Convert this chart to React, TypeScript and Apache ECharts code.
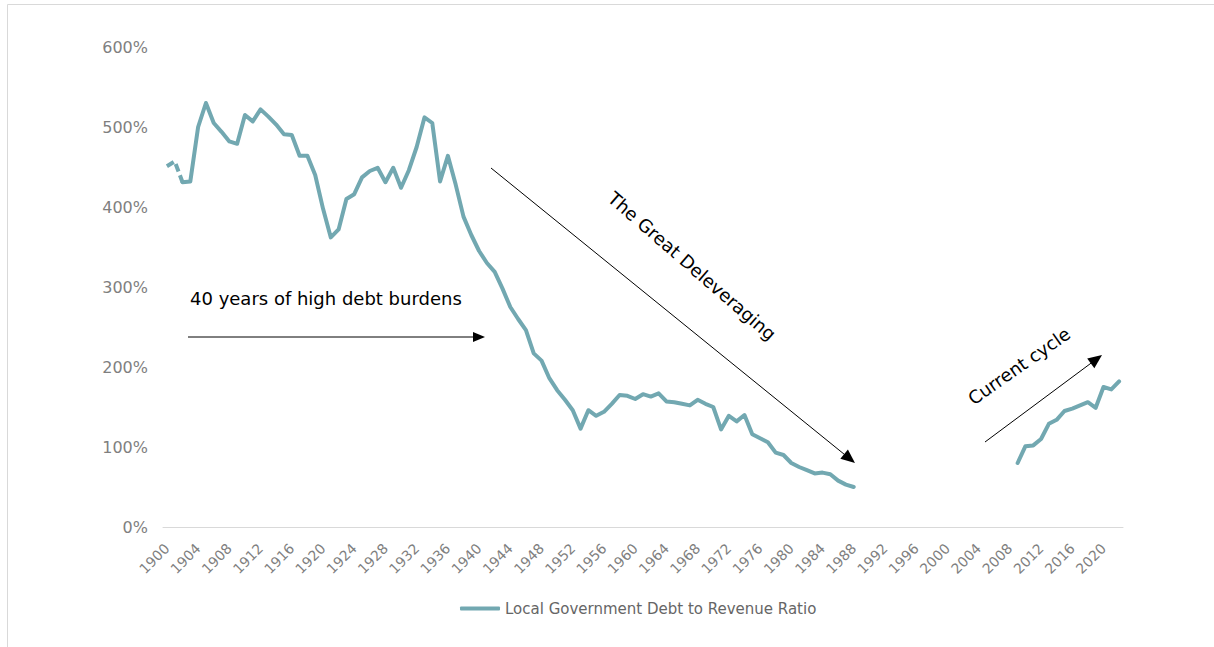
import React, { useEffect, useRef } from "react";
import * as echarts from "echarts";

// ---- Data ----
const years: string[] = Array.from({ length: 123 }, (_, i) => String(1900 + i));

// Local Government Debt to Revenue Ratio (%), 1900–2022 (null = no data)
const ratio: (number | null)[] = [
  451, 457, 431, 432, 500, 530, 505, 494, 482, 479, // 1900-1909
  515, 507, 522, 513, 503, 491, 490, 464, 464, 440, // 1910-1919
  398, 362, 372, 410, 416, 437, 445, 449, 431, 449, // 1920-1929
  424, 446, 475, 512, 505, 432, 464, 428, 388, 365, // 1930-1939
  345, 330, 319, 298, 275, 260, 246, 217, 208, 186, // 1940-1949
  171, 159, 146, 123, 146, 139, 144, 154, 165, 164, // 1950-1959
  160, 166, 163, 167, 157, 156, 154, 152, 159, 154, // 1960-1969
  150, 122, 139, 132, 140, 116, 111, 106, 93, 90,   // 1970-1979
  80, 75, 71, 67, 68, 66, 58, 53, 50, null,         // 1980-1989
  null, null, null, null, null, null, null, null, null, null, // 1990-1999
  null, null, null, null, null, null, null, null, null, 80,   // 2000-2009
  101, 102, 110, 129, 134, 145, 148, 152, 156, 149, // 2010-2019
  175, 172, 182,                                     // 2020-2022
];

// early, estimated years drawn dashed (through this year)
const dashedThrough = "1902";

const yTicks = { min: 0, max: 600, interval: 100 };

const seriesName = "Local Government Debt to Revenue Ratio";
const annotations = {
  high: "40 years of high debt burdens",
  delever: "The Great Deleveraging",
  current: "Current cycle",
};

const LINE_COLOR = "#72a8b1";
const LABEL_COLOR = "#7f7f7f";
const FONT = "'DejaVu Sans', Verdana, sans-serif";

function arrow(x1: number, y1: number, x2: number, y2: number, len = 12, half = 5) {
  const dx = x2 - x1;
  const dy = y2 - y1;
  const d = Math.sqrt(dx * dx + dy * dy);
  const ux = dx / d;
  const uy = dy / d;
  const bx = x2 - ux * len;
  const by = y2 - uy * len;
  const px = -uy;
  const py = ux;
  return [
    {
      type: "line",
      silent: true,
      shape: { x1, y1, x2: bx + ux * 2, y2: by + uy * 2 },
      style: { stroke: "#000", lineWidth: 1 },
    },
    {
      type: "polygon",
      silent: true,
      shape: {
        points: [
          [x2, y2],
          [bx + px * half, by + py * half],
          [bx - px * half, by - py * half],
        ],
      },
      style: { fill: "#000" },
    },
  ];
}

export default function App() {
  const ref = useRef<HTMLDivElement>(null);

  useEffect(() => {
    if (!ref.current) return;
    const chart = echarts.init(ref.current, null, { renderer: "svg" });
    const cut = years.indexOf(dashedThrough);
    const solid = ratio.map((v, i) => (i < cut ? null : v));
    const dashed = ratio.map((v, i) => (i > cut ? null : v));

    chart.setOption({
      animation: false,
      backgroundColor: "#ffffff",
      textStyle: { fontFamily: FONT },
      grid: { left: 163, right: 91, top: 47, bottom: 120, containLabel: false },
      legend: {
        data: [seriesName],
        left: 455,
        top: 596,
        itemWidth: 40,
        itemHeight: 4,
        itemGap: 10,
        icon: "roundRect",
        textStyle: { color: "#666666", fontSize: 15, fontFamily: FONT },
      },
      xAxis: {
        type: "category",
        data: years,
        boundaryGap: true,
        axisLine: { lineStyle: { color: "#d9d9d9", width: 1 } },
        axisTick: { show: false },
        axisLabel: {
          interval: 3,
          rotate: 45,
          margin: 19,
          color: LABEL_COLOR,
          fontSize: 14,
          fontFamily: FONT,
        },
        splitLine: { show: false },
      },
      yAxis: {
        type: "value",
        min: yTicks.min,
        max: yTicks.max,
        interval: yTicks.interval,
        axisLine: { show: false },
        axisTick: { show: false },
        splitLine: { show: false },
        axisLabel: {
          formatter: "{value}%",
          color: LABEL_COLOR,
          fontSize: 16,
          margin: 15,
          fontFamily: FONT,
        },
      },
      series: [
        {
          name: seriesName,
          type: "line",
          data: solid,
          showSymbol: false,
          symbol: "none",
          connectNulls: false,
          lineStyle: { color: LINE_COLOR, width: 4, cap: "round", join: "round" },
          itemStyle: { color: LINE_COLOR },
        },
        {
          name: "estimated",
          type: "line",
          data: dashed,
          showSymbol: false,
          symbol: "none",
          lineStyle: { color: LINE_COLOR, width: 4, type: [8, 4], cap: "butt" },
          itemStyle: { color: LINE_COLOR },
        },
      ],
      graphic: [
        {
          type: "line",
          silent: true,
          shape: { x1: 7.5, y1: 4.5, x2: 1214, y2: 4.5 },
          style: { stroke: "#d9d9d9", lineWidth: 1 },
        },
        {
          type: "line",
          silent: true,
          shape: { x1: 7.5, y1: 4.5, x2: 7.5, y2: 647 },
          style: { stroke: "#d9d9d9", lineWidth: 1 },
        },
        {
          type: "text",
          silent: true,
          x: 190,
          y: 298,
          style: {
            text: annotations.high,
            fill: "#000",
            font: `18px ${FONT}`,
            verticalAlign: "middle",
            align: "left",
          },
        },
        ...arrow(188, 337, 485, 337, 12, 5),
        {
          type: "text",
          silent: true,
          x: 692,
          y: 266,
          rotation: (-41 * Math.PI) / 180,
          style: {
            text: annotations.delever,
            fill: "#000",
            font: `18px ${FONT}`,
            align: "center",
            verticalAlign: "middle",
          },
        },
        ...arrow(491, 168, 855, 463, 14, 6),
        {
          type: "text",
          silent: true,
          x: 1019,
          y: 366,
          rotation: (35 * Math.PI) / 180,
          style: {
            text: annotations.current,
            fill: "#000",
            font: `18px ${FONT}`,
            align: "center",
            verticalAlign: "middle",
          },
        },
        ...arrow(985, 442, 1102, 355, 14, 6),
      ],
    });

    return () => chart.dispose();
  }, []);

  return (
    <div
      ref={ref}
      style={{ position: "absolute", left: 0, top: 0, width: 1214, height: 647 }}
    />
  );
}
